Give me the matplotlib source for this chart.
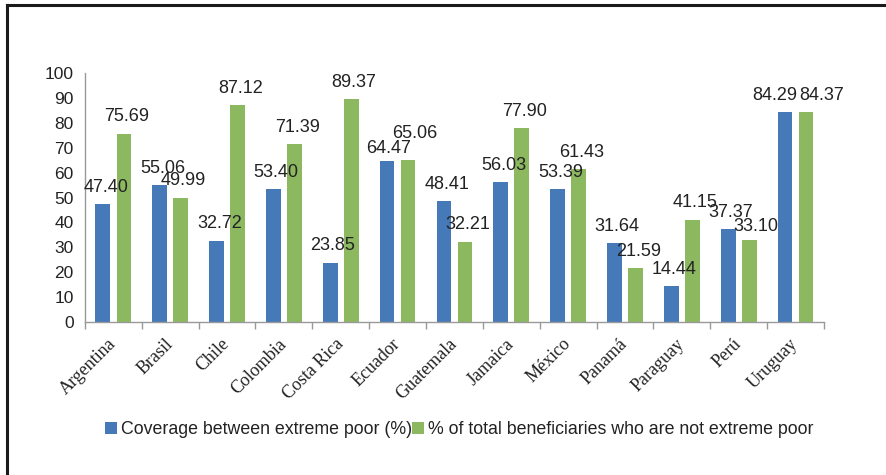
import numpy as np
import matplotlib.pyplot as plt
from matplotlib.lines import Line2D

# data
countries = ['Argentina', 'Brasil', 'Chile', 'Colombia', 'Costa Rica', 'Ecuador', 'Guatemala',
             'Jamaica', 'México', 'Panamá', 'Paraguay', 'Perú', 'Uruguay']
coverage = [47.40, 55.06, 32.72, 53.40, 23.85, 64.47, 48.41, 56.03, 53.39, 31.64, 14.44, 37.37, 84.29]
not_poor = [75.69, 49.99, 87.12, 71.39, 89.37, 65.06, 32.21, 77.90, 61.43, 21.59, 41.15, 33.10, 84.37]
series_names = ['Coverage between extreme poor (%)', '% of total beneficiaries who are not extreme poor']

blue = '#4579b8'
green = '#8cb860'
sans = ['Liberation Sans', 'DejaVu Sans']

# label nudges (points) where the value labels collide, like the original
nudge = {(0, 5): (1, -3), (1, 5): (5, 7),
         (0, 11): (2, 0), (1, 11): (5, -3),
         (0, 12): (-7, 0), (1, 12): (11, 0)}

fig = plt.figure(figsize=(8.86, 4.75), dpi=100)
ax = fig.add_axes([0.0959, 0.3221, 0.834, 0.5242])

x = np.arange(len(countries))
w = 0.26
b1 = ax.bar(x - 0.185, coverage, w, color=blue, label=series_names[0])
b2 = ax.bar(x + 0.185, not_poor, w, color=green, label=series_names[1])

# value labels above each bar
for k, (bars, vals) in enumerate([(b1, coverage), (b2, not_poor)]):
    for i, (rect, v) in enumerate(zip(bars, vals)):
        dx, dy = nudge.get((k, i), (2, 0))
        ax.annotate('{:.2f}'.format(v), (rect.get_x() + rect.get_width() / 2, v),
                    xytext=(dx, 6 + dy), textcoords='offset points', ha='center', va='bottom',
                    fontsize=13, family=sans, color='#222222')

ax.set_xlim(-0.5, len(countries) - 0.5)
ax.set_ylim(0, 100)
ax.set_yticks(range(0, 101, 10))
ax.tick_params(axis='y', length=0, pad=8, labelsize=12.5)
for lab in ax.get_yticklabels():
    lab.set_family(sans)
    lab.set_color('#222222')

# category labels, serif and rotated
ax.set_xticks(x)
ax.set_xticklabels(countries, rotation=45, ha='right', va='center', rotation_mode='anchor',
                   family=['Liberation Serif', 'DejaVu Serif'], fontsize=13, color='#222222')
ax.tick_params(axis='x', which='major', length=0, pad=14)
ax.set_xticks(np.arange(-0.5, len(countries), 1), minor=True)
ax.tick_params(axis='x', which='minor', length=5, color='#999999', width=1)

for s in ['top', 'right']:
    ax.spines[s].set_visible(False)
for s in ['left', 'bottom']:
    ax.spines[s].set_color('#999999')
    ax.spines[s].set_linewidth(1)

leg = fig.legend(loc='center', bbox_to_anchor=(0.518, 0.095), ncol=2, frameon=False,
                 handlelength=0.7, handleheight=0.7, handletextpad=0.2, columnspacing=0.0,
                 prop={'family': sans, 'size': 12.8})
for t in leg.get_texts():
    t.set_color('#222222')

# frame lines (top and left)
fig.add_artist(Line2D([6.5 / 886, 1], [1 - 5 / 475, 1 - 5 / 475], color='#1a1a1a', lw=2.2,
                      transform=fig.transFigure))
fig.add_artist(Line2D([6.5 / 886, 6.5 / 886], [0, 1 - 5 / 475], color='#1a1a1a', lw=2.2,
                      transform=fig.transFigure))

fig.savefig('out.png', dpi=100)
